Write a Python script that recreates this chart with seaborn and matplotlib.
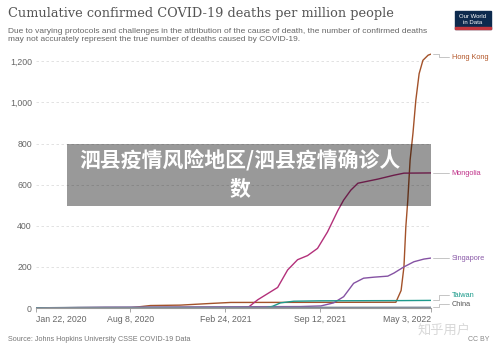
import numpy as np
import pandas as pd
import seaborn as sns
from matplotlib import pyplot as plt
from matplotlib.patches import Rectangle

# cumulative confirmed deaths per million
hk_dates = ['2020-01-22', '2020-08-07', '2020-09-19', '2020-11-21', '2021-01-23', '2021-03-07',
            '2022-02-18', '2022-03-01', '2022-03-07', '2022-03-11', '2022-03-15', '2022-03-20',
            '2022-03-26', '2022-04-01', '2022-04-08', '2022-04-16', '2022-04-27', '2022-05-03']
hk_vals = [0, 1, 12, 14, 22, 27, 28, 85, 200, 395, 520, 720, 850, 1010, 1140, 1205, 1230, 1235]

mn_dates = ['2020-01-22', '2021-03-28', '2021-04-14', '2021-05-03', '2021-05-24', '2021-06-14',
            '2021-07-05', '2021-07-26', '2021-08-16', '2021-09-06', '2021-09-27', '2021-10-19',
            '2021-10-31', '2021-11-15', '2021-11-30', '2022-01-11', '2022-02-14', '2022-03-07',
            '2022-05-03']
mn_vals = [0, 2, 5, 40, 70, 100, 185, 235, 255, 290, 370, 475, 525, 573, 607, 627, 646, 656, 657]

sg_dates = ['2020-01-22', '2020-04-15', '2020-06-15', '2021-08-01', '2021-09-13', '2021-10-10',
            '2021-10-31', '2021-11-21', '2021-12-12', '2022-01-03', '2022-02-01', '2022-02-14',
            '2022-03-07', '2022-03-28', '2022-04-18', '2022-05-03']
sg_vals = [0, 2, 4, 7, 10, 25, 55, 120, 145, 150, 155, 170, 200, 225, 238, 243]

tw_dates = ['2020-01-22', '2020-06-01', '2021-05-19', '2021-06-03', '2021-06-20', '2021-07-18',
            '2021-09-12', '2022-03-01', '2022-05-03']
tw_vals = [0, 0.3, 1, 8, 25, 33, 35, 36, 37]

cn_dates = ['2020-01-22', '2020-02-20', '2020-04-20', '2021-06-01', '2022-05-03']
cn_vals = [0, 1.5, 3.2, 3.3, 3.6]

countries = ['Hong Kong', 'Mongolia', 'Singapore', 'Taiwan', 'China']
colors = ['#a3522a', '#b3307a', '#8552a3', '#1e9a8c', '#7d8a98']
label_colors = ['#b3572a', '#c0338a', '#8a5aa8', '#1a9a8a', '#555555']
label_vals = [1219, 656, 243, 63, 19]
end_vals = [1235, 657, 243, 37, 3.6]

tick_dates = ['2020-01-22', '2020-08-08', '2021-02-24', '2021-09-12', '2022-05-03']
tick_labels = ['Jan 22, 2020', 'Aug 8, 2020', 'Feb 24, 2021', 'Sep 12, 2021', 'May 3, 2022']
y_ticks = [0, 200, 400, 600, 800, 1000, 1200]

frames = []
for name, d, v in zip(countries, [hk_dates, mn_dates, sg_dates, tw_dates, cn_dates],
                      [hk_vals, mn_vals, sg_vals, tw_vals, cn_vals]):
    frames.append(pd.DataFrame({'date': pd.to_datetime(d), 'value': v, 'country': name}))
df = pd.concat(frames)

sns.set_style('white')
plt.rcParams['font.family'] = ['Liberation Sans', 'DejaVu Sans']

fig = plt.figure(figsize=(5, 3.52), dpi=100)
ax = fig.add_axes([0.072, 0.125, 0.79, 0.730])

sns.lineplot(data=df, x='date', y='value', hue='country', palette=dict(zip(countries, colors)),
             linewidth=1, legend=False, ax=ax)

x0, x1 = pd.Timestamp('2020-01-22'), pd.Timestamp('2022-05-03')
ax.set_xlim(x0, x1)
ax.set_ylim(0, 1250)
ax.set_yticks(y_ticks)
ax.set_yticklabels([f'{t:,}' for t in y_ticks])
ax.set_xticks(pd.to_datetime(tick_dates))
ax.set_xticklabels(tick_labels)
xl = ax.get_xticklabels()
xl[0].set_ha('left')
xl[-1].set_ha('right')
ax.set_xlabel('')
ax.set_ylabel('')
ax.grid(axis='y', linestyle=(0, (3, 3)), color='#dddddd', linewidth=0.6)
ax.grid(axis='x', visible=False)
for s in ['top', 'right', 'left']:
    ax.spines[s].set_visible(False)
ax.spines['bottom'].set_color('#999999')
ax.spines['bottom'].set_linewidth(0.8)
ax.tick_params(axis='x', colors='#999999', labelcolor='#666666', labelsize=6.3,
               length=3, width=0.6, pad=2, bottom=True)
ax.tick_params(axis='y', labelcolor='#666666', labelsize=6.3, length=0, pad=3)

# right-hand labels with connector lines
trans = ax.get_yaxis_transform()
for name, lc, ly, ey in zip(countries, label_colors, label_vals, end_vals):
    ax.plot([1.005, 1.02, 1.02, 1.045], [ey, ey, ly, ly], color='#bbbbbb', lw=0.6,
            transform=trans, clip_on=False)
    ax.text(1.052, ly, name, color=lc, fontsize=5.3, va='center', ha='left',
            transform=trans, clip_on=False)

# header
fig.text(8 / 500, 1 - 17 / 352, 'Cumulative confirmed COVID-19 deaths per million people',
         fontsize=9.3, color='#555555', family='DejaVu Serif', va='baseline')
fig.text(8 / 500, 1 - 41 / 352,
         'Due to varying protocols and challenges in the attribution of the cause of death, '
         'the number of confirmed deaths\nmay not accurately represent the true number of deaths '
         'caused by COVID-19.', fontsize=6.0, color='#666666', va='baseline', linespacing=1.25)

# logo
fig.add_artist(Rectangle((455 / 500, 1 - 29 / 352), 36 / 500, 18 / 352,
                         transform=fig.transFigure, color='#0d2a4e'))
fig.add_artist(Rectangle((455 / 500, 1 - 29 / 352), 36 / 500, 2 / 352,
                         transform=fig.transFigure, color='#c3363e'))
fig.text(473 / 500, 1 - 19.5 / 352, 'Our World\nin Data', fontsize=4.3, color='white',
         ha='center', va='center', linespacing=1.1)

# footer
fig.text(8 / 500, 1 - 341 / 352, 'Source: Johns Hopkins University CSSE COVID-19 Data',
         fontsize=5.2, color='#777777', va='baseline')
fig.text(444 / 500, 1 - 334 / 352, '知乎用户', fontsize=9.5, color='#d8d8d8',
         family=['Noto Sans CJK SC', 'DejaVu Sans'], va='baseline', ha='center')
fig.text(489 / 500, 1 - 341 / 352, 'CC BY', fontsize=5, color='#888888', va='baseline', ha='right')

# gray overlay banner
fig.add_artist(Rectangle((67 / 500, 1 - 206 / 352), 364 / 500, 62 / 352,
                         transform=fig.transFigure, color='black', alpha=0.4, lw=0))
fig.text(240 / 500, 1 - 160 / 352, '泗县疫情风险地区/泗县疫情确诊人', fontsize=15,
         color='white', fontweight='bold', family=['Noto Sans CJK SC', 'DejaVu Sans'],
         ha='center', va='center')
fig.text(240 / 500, 1 - 189 / 352, '数', fontsize=15, color='white', fontweight='bold',
         family=['Noto Sans CJK SC', 'DejaVu Sans'], ha='center', va='center')

fig.savefig('out.png', dpi=100)
